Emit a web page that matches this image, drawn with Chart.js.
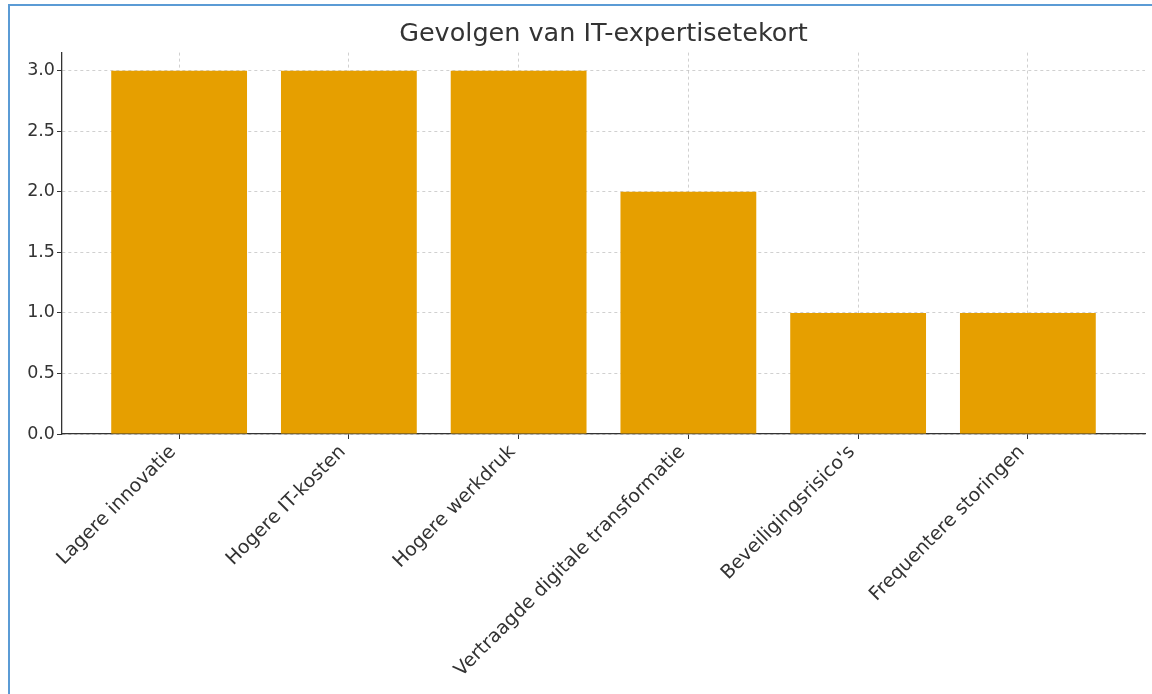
<!DOCTYPE html>
<html>
<head>
<meta charset="utf-8">
<script src="https://cdn.jsdelivr.net/npm/chart.js@4"></script>
<style>
  html, body { margin: 0; padding: 0; background: #ffffff; overflow: hidden; }
  #frame { position: absolute; left: 8px; top: 4px; width: 1200px; height: 760px; border: 2px solid #5b9bd5; box-sizing: border-box; }
  #wrap { position: absolute; left: 0; top: 0; width: 1152px; height: 694px; }
</style>
</head>
<body>
<div id="frame"></div>
<div id="wrap"><canvas id="c" width="1152" height="694"></canvas></div>
<script>
const categories = ["Lagere innovatie", "Hogere IT-kosten", "Hogere werkdruk", "Vertraagde digitale transformatie", "Beveiligingsrisico's", "Frequentere storingen"];
const values = [3, 3, 3, 2, 1, 1];
const yTicks = [0, 0.5, 1, 1.5, 2, 2.5, 3];
const chartTitle = "Gevolgen van IT-expertisetekort";

const textColor = '#333333';
const gridColor = 'rgba(176,176,176,0.6)';
const font = "'DejaVu Sans', sans-serif";

const centerTitleOnPlot = {
  id: 'centerTitleOnPlot',
  afterLayout(chart) {
    if (chart.titleBlock) {
      chart.titleBlock.left = chart.chartArea.left;
      chart.titleBlock.right = chart.chartArea.right;
    }
  }
};

new Chart(document.getElementById('c'), {
  type: 'bar',
  plugins: [centerTitleOnPlot],
  data: {
    datasets: [{
      data: categories.map((c, i) => ({ x: i, y: values[i] })),
      backgroundColor: '#E69F00',
      borderWidth: 0,
      barPercentage: 0.8,
      categoryPercentage: 1.0
    }]
  },
  options: {
    responsive: false,
    animation: false,
    layout: { padding: { left: 0, right: 7, top: 0, bottom: 0 } },
    plugins: {
      legend: { display: false },
      tooltip: { enabled: false },
      title: {
        display: true,
        text: chartTitle,
        color: textColor,
        font: { family: font, size: 25.5, weight: 'normal' },
        padding: { top: 19, bottom: 3 }
      }
    },
    scales: {
      x: {
        type: 'linear',
        offset: false,
        min: -0.69,
        max: 5.69,
        z: 1,
        afterBuildTicks: (s) => { s.ticks = categories.map((c, i) => ({ value: i })); },
        afterFit: (s) => { s.height = 260; },
        ticks: {
          autoSkip: false,
          maxRotation: 45,
          minRotation: 45,
          padding: 2,
          labelOffset: -6,
          color: textColor,
          font: { family: font, size: 19 },
          callback: (v) => categories[v]
        },
        grid: {
          offset: false,
          color: gridColor,
          lineWidth: 1,
          tickColor: '#333333',
          tickLength: 5,
          tickBorderDash: []
        },
        border: { display: true, color: '#333333', width: 1.3, dash: [3, 3] }
      },
      y: {
        min: 0,
        max: 3.15,
        z: 1,
        afterFit: (s) => { s.width = 62; },
        afterBuildTicks: (s) => { s.ticks = yTicks.map(v => ({ value: v })); },
        ticks: {
          color: textColor,
          padding: 2,
          font: { family: font, size: 17.5 },
          callback: (v) => Number(v).toFixed(1)
        },
        grid: {
          color: gridColor,
          lineWidth: 1,
          tickColor: '#333333',
          tickLength: 5,
          tickBorderDash: []
        },
        border: { display: true, color: '#333333', width: 1.3, dash: [3, 3] }
      }
    }
  }
});
</script>
</body>
</html>
